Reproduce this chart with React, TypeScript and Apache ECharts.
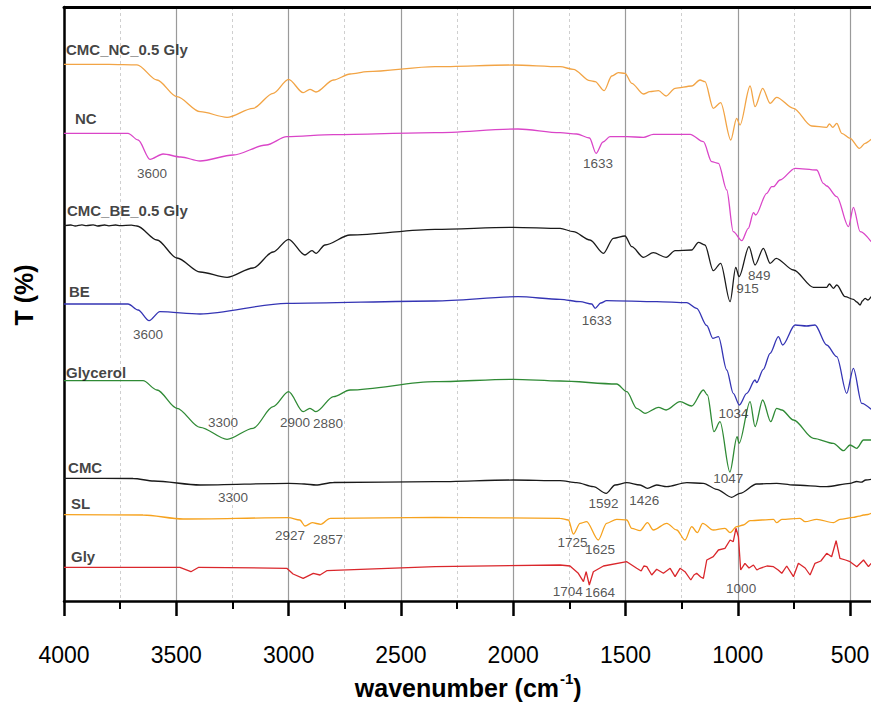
import React, { useEffect, useRef } from 'react';
import * as echarts from 'echarts';

// ---- Data (wavenumber cm-1, transmittance in offset plot units) ----
const seriesNames = ['CMC_NC_0.5 Gly', 'NC', 'CMC_BE_0.5 Gly', 'BE', 'Glycerol', 'CMC', 'SL', 'Gly'];
const seriesColors = ['#F2A445', '#DA45C8', '#1A1A1A', '#3434B4', '#2F8A35', '#1A1A1A', '#F6A21E', '#DA272C'];

const cmcNcGly: [number, number][] = [
  [4000, 536.7], [3800, 536.7], [3675, 536.2], [3586, 521], [3497, 504.3], [3394, 489.3], [3274, 483.7],
  [3158, 492.7], [3069, 507.7], [3000, 521.7], [2935, 508.3], [2905, 511.7], [2878, 509], [2800, 521],
  [2726, 527], [2650, 529.3], [2348, 534.3], [2000, 536], [1791, 534.3], [1732, 531.7], [1658, 520.3],
  [1635, 519.3], [1595, 510.3], [1561, 525], [1532, 528.3], [1502, 527.7], [1472, 517.7], [1420, 507],
  [1391, 509.3], [1353, 510.3], [1319, 505], [1279, 512.7], [1205, 515], [1168, 521], [1146, 519.3],
  [1109, 492.7], [1076, 498.3], [1031, 461], [1005, 482.7], [990, 476], [945, 515], [923, 494.3],
  [889, 512.7], [856, 497.7], [827, 503.7], [752, 492.7], [671, 475], [604, 473.7], [592, 477],
  [577, 473.7], [559, 477.7], [537, 467.7], [500, 462.7], [458, 452.7], [433, 457.7], [406, 461.7],
];

const nc: [number, number][] = [
  [4000, 467.7], [3715, 467.7], [3670, 461], [3617, 441.7], [3559, 447], [3480, 444], [3394, 440],
  [3247, 446], [3100, 456], [3008, 464.3], [2800, 466.3], [2348, 468.3], [1978, 472], [1791, 468.3],
  [1717, 467], [1660, 463], [1631, 447.7], [1600, 459], [1569, 464.3], [1494, 464.3], [1420, 463.7],
  [1376, 466.7], [1212, 466.7], [1153, 459.3], [1116, 439.3], [1086, 437.7], [1049, 411], [1020, 369.3],
  [982, 360.3], [953, 372.7], [930, 388.3], [920, 386], [871, 407.7], [849, 414.3], [841, 414.3],
  [812, 421], [745, 432.7], [648, 431], [619, 417.7], [604, 415], [559, 404.3], [507, 374.3],
  [485, 393.7], [455, 369.3], [406, 359.3],
];

const cmcBeGly: [number, number][] = [
  [4000, 375.3], [3970, 376.0], [3950, 375.0], [3920, 376.1], [3900, 375.3], [3870, 376.2], [3850, 375.0],
  [3820, 376.0], [3800, 375.2], [3770, 376.0], [3750, 375.3], [3700, 375.8], [3675, 375], [3586, 361],
  [3497, 343], [3394, 329], [3274, 323.7], [3158, 333], [3069, 349], [3000, 361.7], [2927, 346],
  [2896, 350.3], [2878, 347.7], [2838, 356], [2726, 366], [2348, 371.7], [2000, 373.7], [1791, 372.7],
  [1732, 369.3], [1658, 361], [1598, 347.7], [1554, 362.7], [1502, 365], [1472, 354.3], [1420, 343.7],
  [1376, 348.3], [1319, 343.7], [1279, 350.3], [1205, 351], [1175, 358.7], [1146, 356], [1109, 330.3],
  [1076, 337.7], [1034, 299.3], [1009, 333.7], [994, 324.3], [950, 354.3], [923, 336], [886, 352.7],
  [856, 337.7], [829, 342.7], [752, 331], [663, 313.7], [604, 313.7], [592, 317], [574, 312.7],
  [559, 316], [522, 304.3], [485, 301.7], [470, 299], [455, 296], [445, 300], [433, 302.7], [420, 301],
  [406, 304.3],
];

const be: [number, number][] = [
  [4000, 297], [3715, 297], [3670, 291], [3621, 280.3], [3573, 289.3], [3394, 287], [3008, 297.7],
  [2348, 300], [1978, 304.3], [1791, 301.7], [1702, 299.3], [1650, 297], [1635, 292.7], [1610, 298],
  [1584, 300.3], [1361, 299.3], [1227, 298.3], [1183, 292.7], [1138, 275.5], [1111, 262.7], [1086, 264.3],
  [1049, 231], [1020, 207.7], [993, 196], [960, 207.7], [923, 221], [916, 218.3], [886, 231.7],
  [856, 247.7], [819, 264.3], [800, 256], [745, 276], [693, 275], [656, 276], [604, 256], [559, 244.3],
  [515, 207.7], [485, 232.7], [448, 197.7], [406, 191.7],
];

const glycerol: [number, number][] = [
  [4000, 220.3], [3648, 220.3], [3586, 211], [3497, 192.7], [3394, 173.7], [3274, 161.7], [3158, 172.7],
  [3069, 194.3], [3000, 209.3], [2935, 189.3], [2905, 192.7], [2878, 189.3], [2800, 204.3], [2726, 211],
  [2348, 219.3], [2000, 221.7], [1791, 220], [1539, 217], [1494, 209.3], [1450, 192.7], [1413, 187.7],
  [1353, 193.7], [1319, 191], [1257, 199.3], [1205, 195], [1153, 211], [1135, 206], [1106, 169.3],
  [1079, 179.3], [1035, 129], [1003, 164.3], [994, 157.7], [945, 199.3], [923, 174.3], [889, 201],
  [853, 179.3], [827, 192.7], [804, 191], [752, 181], [663, 162.7], [574, 157.7], [529, 150.3],
  [500, 156], [470, 152.7], [440, 161], [406, 161],
];

const cmc: [number, number][] = [
  [4000, 122.7], [3692, 122.5], [3600, 120], [3394, 116], [3000, 117.7], [2930, 117], [2878, 116],
  [2800, 118.5], [2348, 119.3], [2000, 121], [1791, 120.3], [1717, 118.3], [1643, 114.3], [1586, 107.7],
  [1546, 116], [1494, 118.3], [1435, 116], [1402, 112.7], [1361, 116], [1316, 114.3], [1227, 118.3],
  [1153, 117.7], [1094, 111.7], [1027, 103.7], [990, 107.7], [916, 117], [827, 117.7], [752, 116],
  [604, 114.3], [500, 117.7], [470, 119.5], [450, 118.8], [430, 121], [406, 121.7],
];

const sl: [number, number][] = [
  [4000, 86.3], [3648, 86], [3470, 82], [3000, 83.3], [2950, 81], [2927, 75], [2895, 78.3], [2857, 76.7],
  [2815, 82.7], [2348, 83.7], [1791, 82.7], [1754, 81], [1732, 67], [1702, 77.7], [1673, 79.3],
  [1621, 61], [1584, 77.7], [1539, 81.7], [1494, 81], [1472, 72.7], [1435, 70.3], [1402, 78.3],
  [1376, 71], [1316, 77.7], [1272, 71], [1235, 61], [1205, 74.3], [1180, 68.3], [1156, 77.7],
  [1109, 71], [1057, 72.7], [1034, 68.3], [1005, 74.3], [975, 76], [945, 80.3], [841, 81.7],
  [827, 78.3], [804, 81.7], [723, 82.7], [700, 79.3], [648, 81.7], [574, 78.3], [545, 81.7],
  [485, 83.7], [460, 84.8], [440, 86], [420, 86.5], [406, 87.7],
];

const gly: [number, number][] = [
  [4000, 33.7], [3484, 33.7], [3435, 29.3], [3400, 33.7], [3008, 32.7], [2980, 27], [2935, 22.7],
  [2890, 27.7], [2860, 26], [2830, 30.3], [2348, 34.3], [1791, 36], [1747, 35], [1710, 27.7],
  [1687, 19.3], [1675, 29.3], [1661, 16], [1643, 29.3], [1598, 35], [1494, 39.3], [1450, 32.7],
  [1430, 30], [1418, 35], [1405, 34.3], [1383, 26], [1361, 31.7], [1331, 27.7], [1301, 32.7],
  [1279, 24.3], [1257, 32.7], [1235, 29.3], [1209, 21], [1195, 26], [1183, 27.7], [1165, 24],
  [1153, 22.7], [1138, 41], [1109, 44.3], [1086, 51], [1057, 52.7], [1034, 61], [1020, 59.3],
  [1008, 72.7], [997, 64.3], [987, 31], [968, 37.7], [950, 33], [930, 36], [915, 31], [901, 32.7],
  [870, 35], [841, 34.3], [820, 31], [804, 27.7], [782, 35], [752, 24.3], [730, 37.7], [700, 33],
  [678, 26], [656, 37.7], [630, 40], [604, 47.7], [582, 44.3], [562, 60.3], [545, 42.7], [520, 41],
  [500, 39.3], [470, 34.3], [440, 41], [418, 34.3], [406, 37.7],
];

const seriesData = [cmcNcGly, nc, cmcBeGly, be, glycerol, cmc, sl, gly];

// label anchor for each trace name (wavenumber, value)
const nameAnchors: [number, number][] = [
  [3991, 552], [3951, 483], [3987, 391], [3978, 310], [3991, 229], [3982, 134], [3969, 98], [3969, 45],
];

// peak annotations: wavenumber, value, text
const peakLabels: [number, number, string][] = [
  [3608, 428, '3600'], [1622, 438, '1633'], [904, 326, '849'], [957, 312.7, '915'],
  [3626, 267, '3600'], [1628, 280.3, '1633'], [3292, 179, '3300'], [2971, 179, '2900'],
  [2824, 178, '2880'], [1019, 187.7, '1034'], [1042, 122.7, '1047'], [3247, 104, '3300'],
  [1598, 97.7, '1592'], [1416, 101, '1426'], [2994, 66, '2927'], [2824, 62, '2857'],
  [1736, 58.7, '1725'], [1613, 51.7, '1625'], [1757, 9.3, '1704'], [1613, 8.3, '1664'],
  [985, 12.7, '1000'],
];

const xMin = 400;
const xMax = 4000;
const yMin = 0;
const yMax = 594;

const FONT = "'Liberation Sans', Arial, Helvetica, sans-serif";

export default function App() {
  const ref = useRef<HTMLDivElement>(null);

  useEffect(() => {
    if (!ref.current) return;
    const chart = echarts.init(ref.current, undefined, { renderer: 'svg' });

    const lineSeries = seriesData.map((d, i) => ({
      type: 'line',
      name: seriesNames[i],
      data: d,
      showSymbol: false,
      symbol: 'none',
      smooth: i === 7 ? false : 0.3,
      smoothMonotone: 'x',
      lineStyle: { color: seriesColors[i], width: 1.3 },
      z: 3,
    }));

    const option: any = {
      animation: false,
      backgroundColor: '#ffffff',
      textStyle: { fontFamily: FONT },
      grid: { left: 64, right: 7.5, top: 7, bottom: 105, containLabel: false, outerBoundsMode: 'none' },
      xAxis: [
        {
          type: 'value',
          inverse: true,
          min: xMin,
          max: xMax,
          splitNumber: 7,
          minInterval: 500,
          maxInterval: 500,
          position: 'bottom',
          axisLine: { show: true, onZero: false, lineStyle: { color: '#000', width: 2.5 } },
          axisTick: { show: true, length: 15, inside: false, lineStyle: { color: '#000', width: 2.5 } },
          minorTick: { show: true, splitNumber: 2, length: 8, lineStyle: { color: '#000', width: 2 } },
          axisLabel: {
            show: true, margin: 42, fontSize: 23, color: '#000', fontFamily: FONT, showMinLabel: false,
            formatter: (v: number) => String(v),
          },
          splitLine: { show: true, lineStyle: { color: '#9a9a9a', width: 1.2 } },
          minorSplitLine: { show: true, lineStyle: { color: '#cfcfcf', width: 1, type: [3, 3] } },
          name: '{b|wavenumber (cm}{s|-1}{b|)}',
          nameLocation: 'middle',
          nameGap: 70,
          nameTextStyle: {
            fontFamily: FONT,
            rich: {
              b: { fontSize: 25, fontWeight: 'bold', color: '#000', fontFamily: FONT, verticalAlign: 'bottom', lineHeight: 29 },
              s: { fontSize: 15, fontWeight: 'bold', color: '#000', fontFamily: FONT, verticalAlign: 'top', lineHeight: 29, padding: [0, 0, 0, 1] },
            },
          },
        },
        {
          type: 'value',
          inverse: true,
          min: xMin,
          max: xMax,
          position: 'top',
          axisLine: { show: true, onZero: false, lineStyle: { color: '#000', width: 3 } },
          axisTick: { show: false },
          axisLabel: { show: false },
          splitLine: { show: false },
        },
      ],
      yAxis: {
        type: 'value',
        min: yMin,
        max: yMax,
        axisLine: { show: true, onZero: false, lineStyle: { color: '#000', width: 2.5 } },
        axisTick: { show: false },
        axisLabel: { show: false },
        splitLine: { show: false },
        name: 'T (%)',
        nameLocation: 'middle',
        nameGap: 28,
        nameRotate: 90,
        nameTextStyle: { fontSize: 25, fontWeight: 'bold', color: '#000', fontFamily: FONT, padding: [0, 0, 0, 18] },
      },
      series: [
        ...lineSeries,
        {
          type: 'scatter',
          name: 'trace names',
          symbolSize: 0,
          silent: true,
          z: 10,
          data: nameAnchors.map((p, i) => ({ value: p, label: { formatter: seriesNames[i] } })),
          label: {
            show: true, position: 'right', distance: 0, fontSize: 15, fontWeight: 'bold',
            color: '#111', fontFamily: FONT,
          },
        },
        {
          type: 'scatter',
          name: 'peaks',
          symbolSize: 0,
          silent: true,
          z: 10,
          data: peakLabels.map((p) => ({ value: [p[0], p[1]], label: { formatter: p[2] } })),
          label: {
            show: true, position: 'inside', fontSize: 13.5, color: '#2a2a2a', fontFamily: FONT,
          },
        },
      ],
    };

    chart.setOption(option);
    return () => chart.dispose();
  }, []);

  return (
    <div style={{ position: 'absolute', left: 0, top: 0, width: 871, height: 706, overflow: 'hidden', background: '#fff' }}>
      <div ref={ref} style={{ width: 880, height: 706 }} />
    </div>
  );
}
